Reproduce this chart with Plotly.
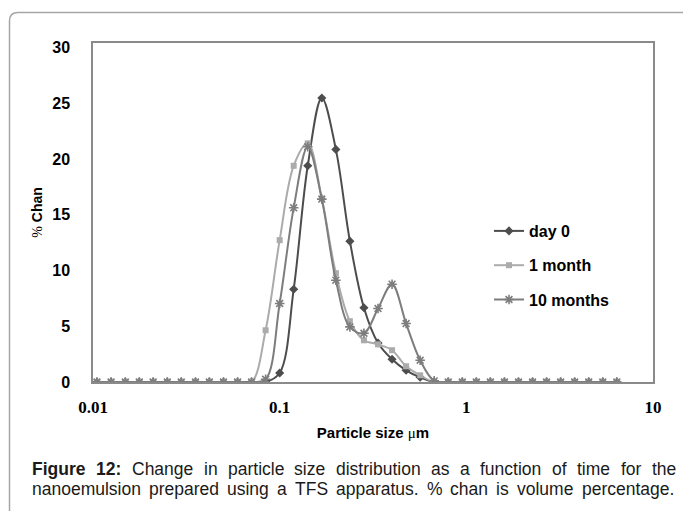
import plotly.graph_objects as go

# ---------------- data ----------------
particle_size_um = [0.0105, 0.0125, 0.0149, 0.0177, 0.0210, 0.0250, 0.0297, 0.0354,
                    0.0420, 0.0500, 0.0595, 0.0707, 0.0841, 0.1000, 0.1189, 0.1414,
                    0.1682, 0.2000, 0.2378, 0.2828, 0.3364, 0.4000, 0.4757, 0.5657,
                    0.6727, 0.8000, 0.9514, 1.131, 1.345, 1.600, 1.903, 2.263,
                    2.691, 3.200, 3.805, 4.525, 5.382, 6.400]

day0 = [0, 0, 0, 0, 0, 0, 0, 0, 0, 0, 0, 0, 0, 0.81, 8.32, 19.39,
        25.47, 20.86, 12.63, 6.66, 3.50, 2.04, 1.05, 0.42, 0, 0, 0, 0,
        0, 0, 0, 0, 0, 0, 0, 0, 0, 0]
month1 = [0, 0, 0, 0, 0, 0, 0, 0, 0, 0, 0, 0, 4.64, 12.72, 19.39, 21.40,
          16.45, 9.76, 5.45, 3.74, 3.38, 2.85, 1.41, 0.60, 0, 0, 0, 0,
          0, 0, 0, 0, 0, 0, 0, 0, 0, 0]
month10 = [0, 0, 0, 0, 0, 0, 0, 0, 0, 0, 0, 0, 0.24, 7.04, 15.62, 21.10,
           16.40, 9.13, 4.94, 4.37, 6.59, 8.77, 5.24, 1.95, 0.1, 0, 0, 0,
           0, 0, 0, 0, 0, 0, 0, 0, 0, 0]

series_names = ["day 0", "1 month", "10 months"]
x_tickvals = [0.01, 0.1, 1, 10]
x_ticktext = ["0.01", "0.1", "1", "10"]
y_tickvals = [0, 5, 10, 15, 20, 25, 30]

caption_line1 = [("Figure", True), ("12:", True), ("Change", False), ("in", False),
                 ("particle", False), ("size", False), ("distribution", False),
                 ("as", False), ("a", False), ("function", False), ("of", False),
                 ("time", False), ("for", False), ("the", False)]
caption_line2 = "nanoemulsion prepared using a TFS apparatus. % chan is volume percentage."

# ---------------- layout helpers ----------------
W, H = 683, 511
L, R, T, B = 93, 653, 43, 382


def px(x):
    return (x - L) / (R - L)


def py(y):
    return (B - y) / (B - T)


REG = {' ': 278, '%': 889, ',': 278, '.': 278, ':': 278,
       'C': 722, 'F': 611, 'S': 667, 'T': 611,
       'a': 556, 'b': 556, 'c': 500, 'd': 556, 'e': 556, 'f': 278, 'g': 556,
       'h': 556, 'i': 222, 'j': 222, 'k': 500, 'l': 222, 'm': 833, 'n': 556,
       'o': 556, 'p': 556, 'q': 556, 'r': 333, 's': 500, 't': 278, 'u': 556,
       'v': 500, 'w': 722, 'x': 500, 'y': 500, 'z': 500}
BOLD = {' ': 278, ':': 333, '1': 556, '2': 556, 'F': 611, 'i': 278, 'g': 611,
        'u': 611, 'r': 389, 'e': 556}
for d in '0123456789':
    REG[d] = 556


CAP_SIZE = 17.5
CAP_FONT = "Liberation Sans, Arial, sans-serif"


def word_width(w, bold, size):
    tbl = BOLD if bold else REG
    return sum(tbl.get(c, 556) for c in w) * size / 1000.0


def justified(words, x0, x1, yc):
    total = sum(word_width(w, b, CAP_SIZE) for w, b in words)
    gap = (x1 - x0 - total) / (len(words) - 1)
    out = []
    x = x0
    for w, b in words:
        out.append(dict(
            text=f"<b>{w}</b>" if b else w, x=px(x), y=py(yc), xref="paper",
            yref="paper", xanchor="left", yanchor="middle", showarrow=False,
            borderpad=0, font=dict(family=CAP_FONT, size=CAP_SIZE, color="#1a1a1a")))
        x += word_width(w, b, CAP_SIZE) + gap
    return out


# ---------------- figure ----------------
fig = go.Figure()
styles = [
    dict(color="#4d4d4d", symbol="diamond", size=7, lw=0),
    dict(color="#ababab", symbol="square", size=6, lw=0),
    dict(color="#7d7d7d", symbol="asterisk-open", size=8, lw=1.6),
]
for name, ys, st in zip(series_names, [day0, month1, month10], styles):
    fig.add_trace(go.Scatter(
        x=particle_size_um, y=ys, name=name, mode="lines+markers",
        legendgroup=name,
        line=dict(color=st["color"], width=2, shape="spline", smoothing=1),
        marker=dict(symbol=st["symbol"], size=st["size"], color=st["color"],
                    line=dict(color=st["color"], width=st["lw"])),
    ))

annotations = []
annotations += justified(caption_line1, 31, 675, 469)
annotations += justified([(w, False) for w in caption_line2.split(" ")], 31, 673, 489)

border_path = (f"M {px(9.5)},{py(530)} L {px(9.5)},{py(21)} "
               f"Q {px(9.5)},{py(12.5)} {px(18)},{py(12.5)} L {px(700)},{py(12.5)}")

fig.update_layout(
    width=W, height=H,
    margin=dict(l=L, r=W - R, t=T, b=H - B),
    paper_bgcolor="white", plot_bgcolor="white",
    showlegend=True,
    legend=dict(x=px(489), y=py(214), xanchor="left", yanchor="top",
                bgcolor="rgba(0,0,0,0)", tracegroupgap=10.5, itemwidth=30,
                font=dict(family="Liberation Sans, Arial, sans-serif", size=16,
                          color="black", weight="bold")),
    xaxis=dict(type="log", range=[-2, 1], tickvals=x_tickvals, ticktext=x_ticktext,
               showgrid=False, zeroline=False, showline=True, mirror=True,
               linecolor="#8a8a8a", linewidth=1.5, ticks="", automargin=False,
               ticklabelstandoff=9,
               tickfont=dict(family="Liberation Serif, Times New Roman, serif", size=17,
                             color="black", weight="bold"),
               title=dict(text="<b>Particle size </b><span style='font-family:Liberation Serif'>μ</span><b>m</b>",
                          standoff=11,
                          font=dict(family="Liberation Sans, Arial, sans-serif", size=15,
                                    color="black"))),
    yaxis=dict(range=[0, 30.4], tickvals=y_tickvals, showgrid=False, zeroline=False,
               showline=True, mirror=True, linecolor="#8a8a8a", linewidth=1.5,
               ticks="", automargin=False, ticklabelstandoff=18,
               tickfont=dict(family="Liberation Sans, Arial, sans-serif", size=16,
                             color="black", weight="bold"),
               title=dict(text="<span style='font-family:Liberation Serif'>%</span> <b>Chan</b>",
                          standoff=6,
                          font=dict(family="Liberation Sans, Arial, sans-serif", size=14,
                                    color="black"))),
    annotations=annotations,
    shapes=[dict(type="path", path=border_path, xref="paper", yref="paper",
                 line=dict(color="#a6a6a6", width=1.5), layer="below")],
)

fig.write_html("out.html")
